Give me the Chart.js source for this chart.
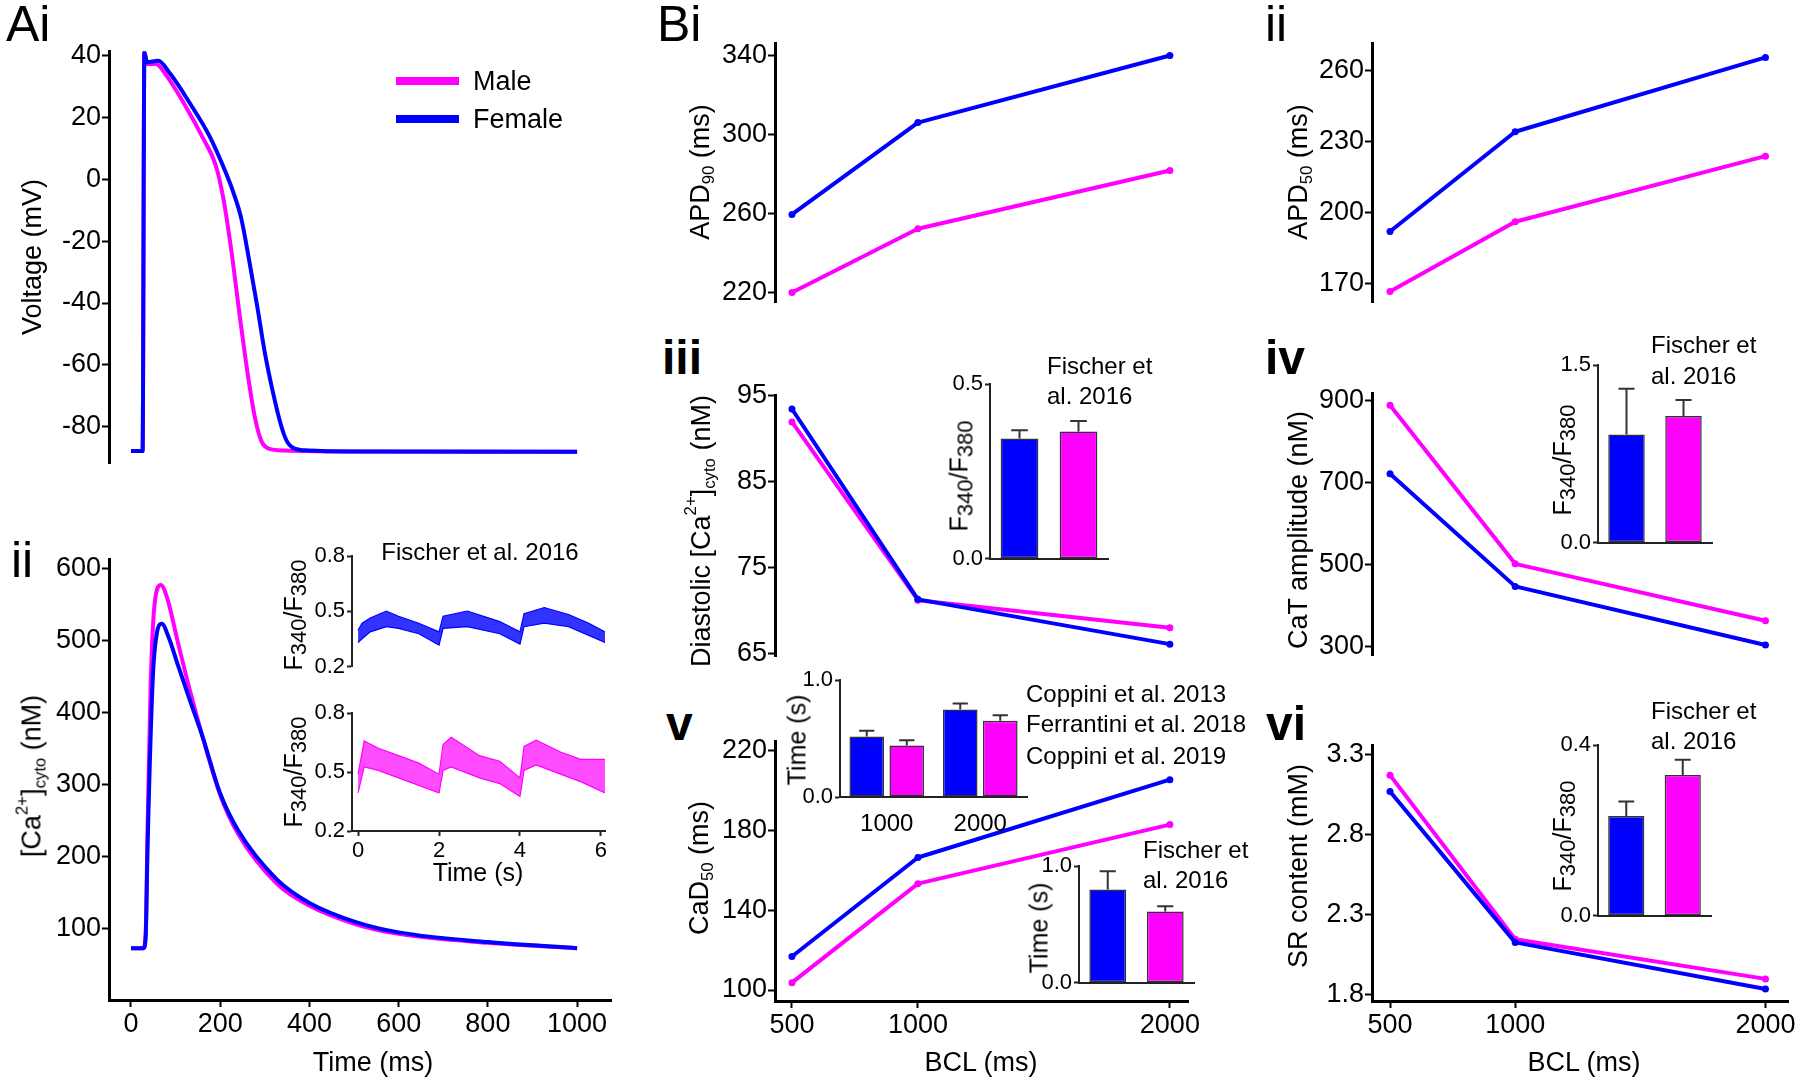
<!DOCTYPE html>
<html>
<head>
<meta charset="utf-8">
<title>Sex differences in AP and Ca2+ handling</title>
<script src="https://cdn.jsdelivr.net/npm/chart.js@4.4.1/dist/chart.umd.min.js"></script>
<style>
  html, body { margin: 0; background: #fff; }
  #fig { position: relative; width: 1800px; height: 1079px; overflow: hidden;
         font-family: 'Liberation Sans', Arial, Helvetica, sans-serif; color: #000; }
  #fig canvas { position: absolute; }
  .t { position: absolute; white-space: nowrap; line-height: 1; }
  .l { transform: translateY(-50%); }
  .c { transform: translate(-50%, -50%); }
  .r { transform: translate(-50%, -50%) rotate(-90deg); }
  .b { font-weight: bold; }
  .t sub, .t sup { font-size: 62%; line-height: 0; }
  .t sub { vertical-align: -0.3em; }
  .t sup { vertical-align: 0.8em; }
  .t sub.f { font-size: 88%; vertical-align: -0.22em; }
  .sw { position: absolute; height: 8px; }
</style>
</head>
<body>
<div id="fig"></div>
<script>
// ---- data ----
// Ai: action potentials (ms, mV)
const apMaleT   = [0, 26, 30, 36, 56, 79, 123, 159, 190, 207, 225, 243, 261, 278, 292, 309, 345, 500, 1000];
const apMaleV   = [-87.8, -87.8, 40.9, 37.2, 37.2, 33.5, 23.4, 13.9, 4.4, -6.2, -23.1, -43.3, -62.3, -77.1, -84.5, -87, -87.6, -87.9, -88];
const apFemaleT = [0, 26, 30, 36, 61, 88, 132, 176, 212, 229, 247, 265, 283, 300, 318, 336, 349, 367, 398, 500, 1000];
const apFemaleV = [-87.8, -87.8, 40.9, 37.7, 38.2, 34, 24.5, 13.9, 2.3, -4.1, -12.6, -26.3, -41.1, -56, -68.7, -79.3, -84.5, -87, -87.6, -87.9, -88];

// Aii: Ca transients (ms, nM)
const caMaleT   = [0, 28, 33, 37, 44, 53, 67, 80, 106, 133, 160, 200, 240, 328, 400, 506, 600, 800, 1000];
const caMaleV   = [72, 72, 95, 233, 438, 551, 577, 561, 495, 428, 367, 285, 231, 161, 131, 105, 92, 79.5, 72];
const caFemaleT = [0, 28, 33, 37, 49, 58, 69, 84, 106, 133, 160, 200, 240, 328, 400, 506, 600, 800, 1000];
const caFemaleV = [72, 72, 88, 208, 449, 510, 523, 505, 464, 415, 367, 287, 236, 167, 135, 108, 94, 80.5, 72];

// Aii inset: Fischer et al. 2016 fluorescence traces (s, ratio), upper and lower edge of the noisy trace
const fluoFT  = [0, 0.1, 0.3, 0.7, 1.0, 1.5, 2.0, 2.1, 2.7, 3.5, 4.0, 4.1, 4.6, 5.2, 5.7, 6.1];
const fluoFHi = [0.398, 0.436, 0.464, 0.502, 0.474, 0.436, 0.389, 0.474, 0.502, 0.445, 0.389, 0.487, 0.521, 0.483, 0.436, 0.389];
const fluoFLo = [0.332, 0.351, 0.389, 0.417, 0.408, 0.379, 0.317, 0.408, 0.417, 0.379, 0.323, 0.417, 0.436, 0.417, 0.370, 0.332];
const fluoMT  = [0, 0.15, 0.5, 1.0, 1.5, 2.0, 2.1, 2.3, 3.0, 3.5, 4.0, 4.1, 4.4, 5.0, 5.5, 6.1];
const fluoMHi = [0.489, 0.658, 0.621, 0.583, 0.545, 0.489, 0.640, 0.677, 0.583, 0.555, 0.470, 0.630, 0.662, 0.602, 0.564, 0.564];
const fluoMLo = [0.394, 0.526, 0.508, 0.470, 0.432, 0.394, 0.508, 0.526, 0.470, 0.441, 0.375, 0.508, 0.536, 0.489, 0.451, 0.394];

// B: rate dependence (BCL in ms)
const bcl = [500, 1000, 2000];
const apd90Female = [259.5, 306, 340];
const apd90Male   = [220, 252.3, 281.8];
const apd50Female = [192, 234.1, 265.5];
const apd50Male   = [166.7, 196.1, 223.8];
const diaCaFemale = [93.4, 71.3, 66.1];
const diaCaMale   = [91.9, 71.2, 68.0];
const catAmpFemale = [721, 446, 303];
const catAmpMale   = [888, 501, 362];
const cad50Female = [116.8, 166.4, 205.4];
const cad50Male   = [103.7, 153.3, 182.9];
const srFemale = [3.068, 2.126, 1.835];
const srMale   = [3.170, 2.146, 1.898];

// B insets: experimental bars [female, male] and upper error
const sexLabels = ['Female', 'Male'];
const diaRatio = [0.344, 0.364],  diaRatioErr = [0.024, 0.030];
const ampRatio = [0.914, 1.069],  ampRatioErr = [0.386, 0.136];
const srRatio  = [0.2335, 0.3295], srRatioErr = [0.034, 0.036];
const cadBcl = ['1000', '2000'];
const cadExpFemale = [0.517, 0.747], cadExpFemaleErr = [0.049, 0.052];
const cadExpMale   = [0.440, 0.652], cadExpMaleErr   = [0.046, 0.046];
const cadFischer = [0.798, 0.610], cadFischerErr = [0.156, 0.046];

// tick labels
const apTicks = [-80, -60, -40, -20, 0, 20, 40];
const caTicks = [100, 200, 300, 400, 500, 600];
const timeTicks = [0, 200, 400, 600, 800, 1000];
const fluoTicks = [0.2, 0.5, 0.8];
const fluoTimeTicks = [0, 2, 4, 6];
const bclTicks = [500, 1000, 2000];
const apd90Ticks = [220, 260, 300, 340];
const apd50Ticks = [170, 200, 230, 260];
const diaTicks = [65, 75, 85, 95];
const ampTicks = [300, 500, 700, 900];
const cadTicks = [100, 140, 180, 220];
const srTicks = [1.8, 2.3, 2.8, 3.3];

// ---- drawing ----
const BLUE = '#0000ff', PINK = '#ff00ff';
const fig = document.getElementById('fig');
const PT = 16, PR = 16;

Chart.defaults.font.family = "'Liberation Sans', Arial, Helvetica, sans-serif";
Chart.defaults.color = '#000';

// upward error whiskers on bars, taken from dataset.err
Chart.register({
  id: 'errorBars',
  afterDatasetsDraw(chart) {
    const ctx = chart.ctx, ys = chart.scales.y;
    chart.data.datasets.forEach((ds, i) => {
      if (!ds.err) return;
      chart.getDatasetMeta(i).data.forEach((bar, j) => {
        const top = ys.getPixelForValue(ds.data[j] + ds.err[j]);
        const half = bar.width * 0.22;
        ctx.save();
        ctx.strokeStyle = '#333';
        ctx.lineWidth = 2;
        ctx.beginPath();
        ctx.moveTo(bar.x, bar.y);
        ctx.lineTo(bar.x, top);
        ctx.moveTo(bar.x - half, top);
        ctx.lineTo(bar.x + half, top);
        ctx.stroke();
        ctx.restore();
      });
    });
  }
});

function makeChart(area, cfg, ax, axb) {
  const c = document.createElement('canvas');
  c.width = Math.round(area.r - area.l + ax + PR);
  c.height = Math.round(area.b - area.t + PT + axb);
  c.style.left = Math.round(area.l - ax) + 'px';
  c.style.top = Math.round(area.t - PT) + 'px';
  fig.appendChild(c);
  const o = cfg.options;
  o.responsive = false;
  o.animation = false;
  o.events = [];
  o.plugins = Object.assign({legend: {display: false}, tooltip: {enabled: false}}, o.plugins || {});
  const xHidden = o.scales.x.display === false;
  o.layout = {autoPadding: false, padding: {top: PT, right: PR, left: 0, bottom: xHidden ? axb : 0}};
  o.scales.y.afterFit = s => { s.width = ax; };
  if (!xHidden) o.scales.x.afterFit = s => { s.height = axb; };
  return new Chart(c, cfg);
}

function axis(min, max, ticks, small, fmt) {
  return {
    type: 'linear', min, max,
    afterBuildTicks: s => { s.ticks = ticks.map(v => ({value: v})); },
    border: {display: true, color: small ? '#222' : '#000', width: small ? 2 : 3},
    grid: {drawOnChartArea: false, drawTicks: true, tickLength: small ? 5 : 7, tickWidth: 2, color: small ? '#222' : '#000'},
    ticks: {font: {size: small ? 22 : 27}, color: '#000', padding: small ? 2 : 1, autoSkip: false, maxRotation: 0,
            callback: fmt || (v => String(v))}
  };
}
const fix1 = v => v.toFixed(1);

function series(xs, ys, color, extra) {
  return Object.assign({
    data: xs.map((x, i) => ({x, y: ys[i]})),
    borderColor: color, backgroundColor: color,
    borderWidth: 4, pointRadius: 0, borderJoinStyle: 'round'
  }, extra || {});
}
const smooth = {cubicInterpolationMode: 'monotone'};
const dots = {pointRadius: 3.5, pointBorderWidth: 0};

function band(xs, hi, lo, color, fillColor) {
  return [
    {data: xs.map((x, i) => ({x, y: hi[i]})), borderColor: color, borderWidth: 1.2, pointRadius: 0, fill: false},
    {data: xs.map((x, i) => ({x, y: lo[i]})), borderColor: color, borderWidth: 1.2, pointRadius: 0,
     fill: '-1', backgroundColor: fillColor}
  ];
}

function lineChart(area, datasets, x, y, ax, axb) {
  return makeChart(area, {type: 'line', data: {datasets}, options: {scales: {x, y}}}, ax, axb);
}

const hiddenX = (min, max) => ({type: 'linear', min, max, display: false});

// Ai
lineChart({l: 109, r: 611, t: 50, b: 465},
  [series(apFemaleT, apFemaleV, BLUE, smooth), series(apMaleT, apMaleV, PINK, smooth)],
  hiddenX(-49.3, 1076), axis(-91.9, 41.3, apTicks), 72, 16);

// Aii
lineChart({l: 109, r: 611, t: 558, b: 1000},
  [series(caFemaleT, caFemaleV, BLUE, smooth), series(caMaleT, caMaleV, PINK, smooth)],
  Object.assign(axis(-49.3, 1076, timeTicks), {position: 'bottom'}), axis(0, 612.8, caTicks), 72, 60);

// Aii insets
lineChart({l: 352, r: 605, t: 556, b: 674},
  band(fluoFT, fluoFHi, fluoFLo, BLUE, 'rgba(0,0,255,0.8)'),
  hiddenX(-0.15, 6.1), axis(0.2, 0.8, fluoTicks, true, fix1), 50, 8);
lineChart({l: 352, r: 605, t: 713, b: 831},
  band(fluoMT, fluoMHi, fluoMLo, PINK, 'rgba(255,0,255,0.7)'),
  Object.assign(axis(-0.15, 6.1, fluoTimeTicks, true), {position: 'bottom'}), axis(0.2, 0.8, fluoTicks, true, fix1), 50, 34);

// B line panels
const bclX = (min, max) => Object.assign(axis(min, max, bclTicks), {position: 'bottom'});
lineChart({l: 775, r: 1188, t: 41.6, b: 304},
  [series(bcl, apd90Female, BLUE, dots), series(bcl, apd90Male, PINK, dots)],
  hiddenX(432.7, 2072), axis(214.8, 346.2, apd90Ticks), 72, 16);
lineChart({l: 1372, r: 1788, t: 41.6, b: 304},
  [series(bcl, apd50Female, BLUE, dots), series(bcl, apd50Male, PINK, dots)],
  hiddenX(428, 2090), axis(161.9, 271.5, apd50Ticks), 72, 16);
lineChart({l: 775, r: 1188, t: 393.8, b: 658},
  [series(bcl, diaCaFemale, BLUE, dots), series(bcl, diaCaMale, PINK, dots)],
  hiddenX(432.7, 2072), axis(64.63, 95, diaTicks), 72, 16);
lineChart({l: 1372, r: 1788, t: 392, b: 657},
  [series(bcl, catAmpFemale, BLUE, dots), series(bcl, catAmpMale, PINK, dots)],
  hiddenX(428, 2090), axis(276.5, 917.7, ampTicks), 72, 16);
lineChart({l: 775, r: 1188, t: 740, b: 1001},
  [series(bcl, cad50Female, BLUE, dots), series(bcl, cad50Male, PINK, dots)],
  bclX(432.7, 2072), axis(94.5, 224.7, cadTicks), 72, 60);
lineChart({l: 1372, r: 1788, t: 743.8, b: 1001},
  [series(bcl, srFemale, BLUE, dots), series(bcl, srMale, PINK, dots)],
  bclX(428, 2090), axis(1.76, 3.357, srTicks), 72, 60);

// B bar insets
const barStyle = {borderColor: '#333', borderWidth: 1.5, borderSkipped: false};
function pairInset(area, values, errs, max, ticks) {
  return makeChart(area, {
    type: 'bar',
    data: {labels: sexLabels, datasets: [Object.assign({
      data: values, err: errs, backgroundColor: [BLUE, PINK],
      categoryPercentage: 1, barPercentage: 0.64}, barStyle)]},
    options: {scales: {
      x: {type: 'category', offset: true, border: {display: true, color: '#222', width: 2},
          grid: {display: false}, ticks: {display: false}},
      y: axis(0, max, ticks, true, fix1)}}
  }, 50, 6);
}
pairInset({l: 990, r: 1108, t: 384.4, b: 568}, diaRatio, diaRatioErr, 0.5, [0, 0.5]);
pairInset({l: 1598, r: 1712, t: 365.4, b: 552}, ampRatio, ampRatioErr, 1.5, [0, 1.5]);
pairInset({l: 1079, r: 1194, t: 866.4, b: 992}, cadFischer, cadFischerErr, 1.0, [0, 1.0]);
pairInset({l: 1598, r: 1711, t: 744.8, b: 925}, srRatio, srRatioErr, 0.4, [0, 0.4]);

makeChart({l: 840, r: 1027, t: 680, b: 797}, {
  type: 'bar',
  data: {labels: cadBcl, datasets: [
    Object.assign({data: cadExpFemale, err: cadExpFemaleErr, backgroundColor: BLUE,
                   categoryPercentage: 0.856, barPercentage: 0.865}, barStyle),
    Object.assign({data: cadExpMale, err: cadExpMaleErr, backgroundColor: PINK,
                   categoryPercentage: 0.856, barPercentage: 0.865}, barStyle)]},
  options: {scales: {
    x: {type: 'category', offset: true, border: {display: true, color: '#222', width: 2},
        grid: {display: false}, ticks: {font: {size: 24}, color: '#000', padding: 5}},
    y: axis(0, 1.0, [0, 1.0], true, fix1)}}
}, 50, 38);

// ---- text ----
function txt(html, x, y, size, cls) {
  const d = document.createElement('div');
  d.className = 't ' + cls;
  d.innerHTML = html;
  d.style.left = x + 'px';
  d.style.top = y + 'px';
  d.style.fontSize = size + 'px';
  fig.appendChild(d);
}
const FR = 'F<sub class="f">340</sub>/F<sub class="f">380</sub>';

// panel letters
txt('Ai', 6, 24, 50, 'l');
txt('ii', 11, 560, 50, 'l');
txt('Bi', 657, 24, 50, 'l');
txt('ii', 1265, 24, 50, 'l');
txt('iii', 662, 358, 48, 'l b');
txt('iv', 1265, 358, 48, 'l b');
txt('v', 666, 724, 48, 'l b');
txt('vi', 1266, 724, 48, 'l b');

// legend
[[PINK, 'Male', 81], [BLUE, 'Female', 119]].forEach(([col, name, y]) => {
  const s = document.createElement('div');
  s.className = 'sw';
  s.style.left = '396px'; s.style.width = '63px';
  s.style.top = (y - 4) + 'px'; s.style.background = col;
  fig.appendChild(s);
  txt(name, 473, y, 27, 'l');
});

// axis titles
txt('Voltage (mV)', 32, 257, 27, 'r');
txt('[Ca<sup>2+</sup>]<sub>cyto</sub> (nM)', 32, 776, 27, 'r');
txt('Time (ms)', 373, 1062, 27, 'c');
txt(FR, 293, 615, 25, 'r');
txt(FR, 293, 772, 25, 'r');
txt('Time (s)', 478, 872, 25, 'c');
txt('Fischer et al. 2016', 480, 552, 24, 'c');

txt('APD<sub>90</sub> (ms)', 700, 172, 27, 'r');
txt('APD<sub>50</sub> (ms)', 1298, 172, 27, 'r');
txt('Diastolic [Ca<sup>2+</sup>]<sub>cyto</sub> (nM)', 701, 531, 27, 'r');
txt('CaT amplitude (nM)', 1298, 530, 27, 'r');
txt('CaD<sub>50</sub> (ms)', 699, 868, 27, 'r');
txt('SR content (mM)', 1298, 866, 27, 'r');
txt('BCL (ms)', 981, 1062, 27, 'c');
txt('BCL (ms)', 1584, 1062, 27, 'c');

txt(FR, 959, 476, 25, 'r');
txt(FR, 1562, 460, 25, 'r');
txt(FR, 1562, 836, 25, 'r');
txt('Time (s)', 797, 740, 25, 'r');
txt('Time (s)', 1039, 928, 25, 'r');

txt('Fischer et', 1047, 366, 24, 'l');
txt('al. 2016', 1047, 396, 24, 'l');
txt('Fischer et', 1651, 345, 24, 'l');
txt('al. 2016', 1651, 376, 24, 'l');
txt('Coppini et al. 2013', 1026, 694, 24, 'l');
txt('Ferrantini et al. 2018', 1026, 724, 24, 'l');
txt('Coppini et al. 2019', 1026, 756, 24, 'l');
txt('Fischer et', 1143, 850, 24, 'l');
txt('al. 2016', 1143, 880, 24, 'l');
txt('Fischer et', 1651, 711, 24, 'l');
txt('al. 2016', 1651, 741, 24, 'l');
</script>
</body>
</html>
